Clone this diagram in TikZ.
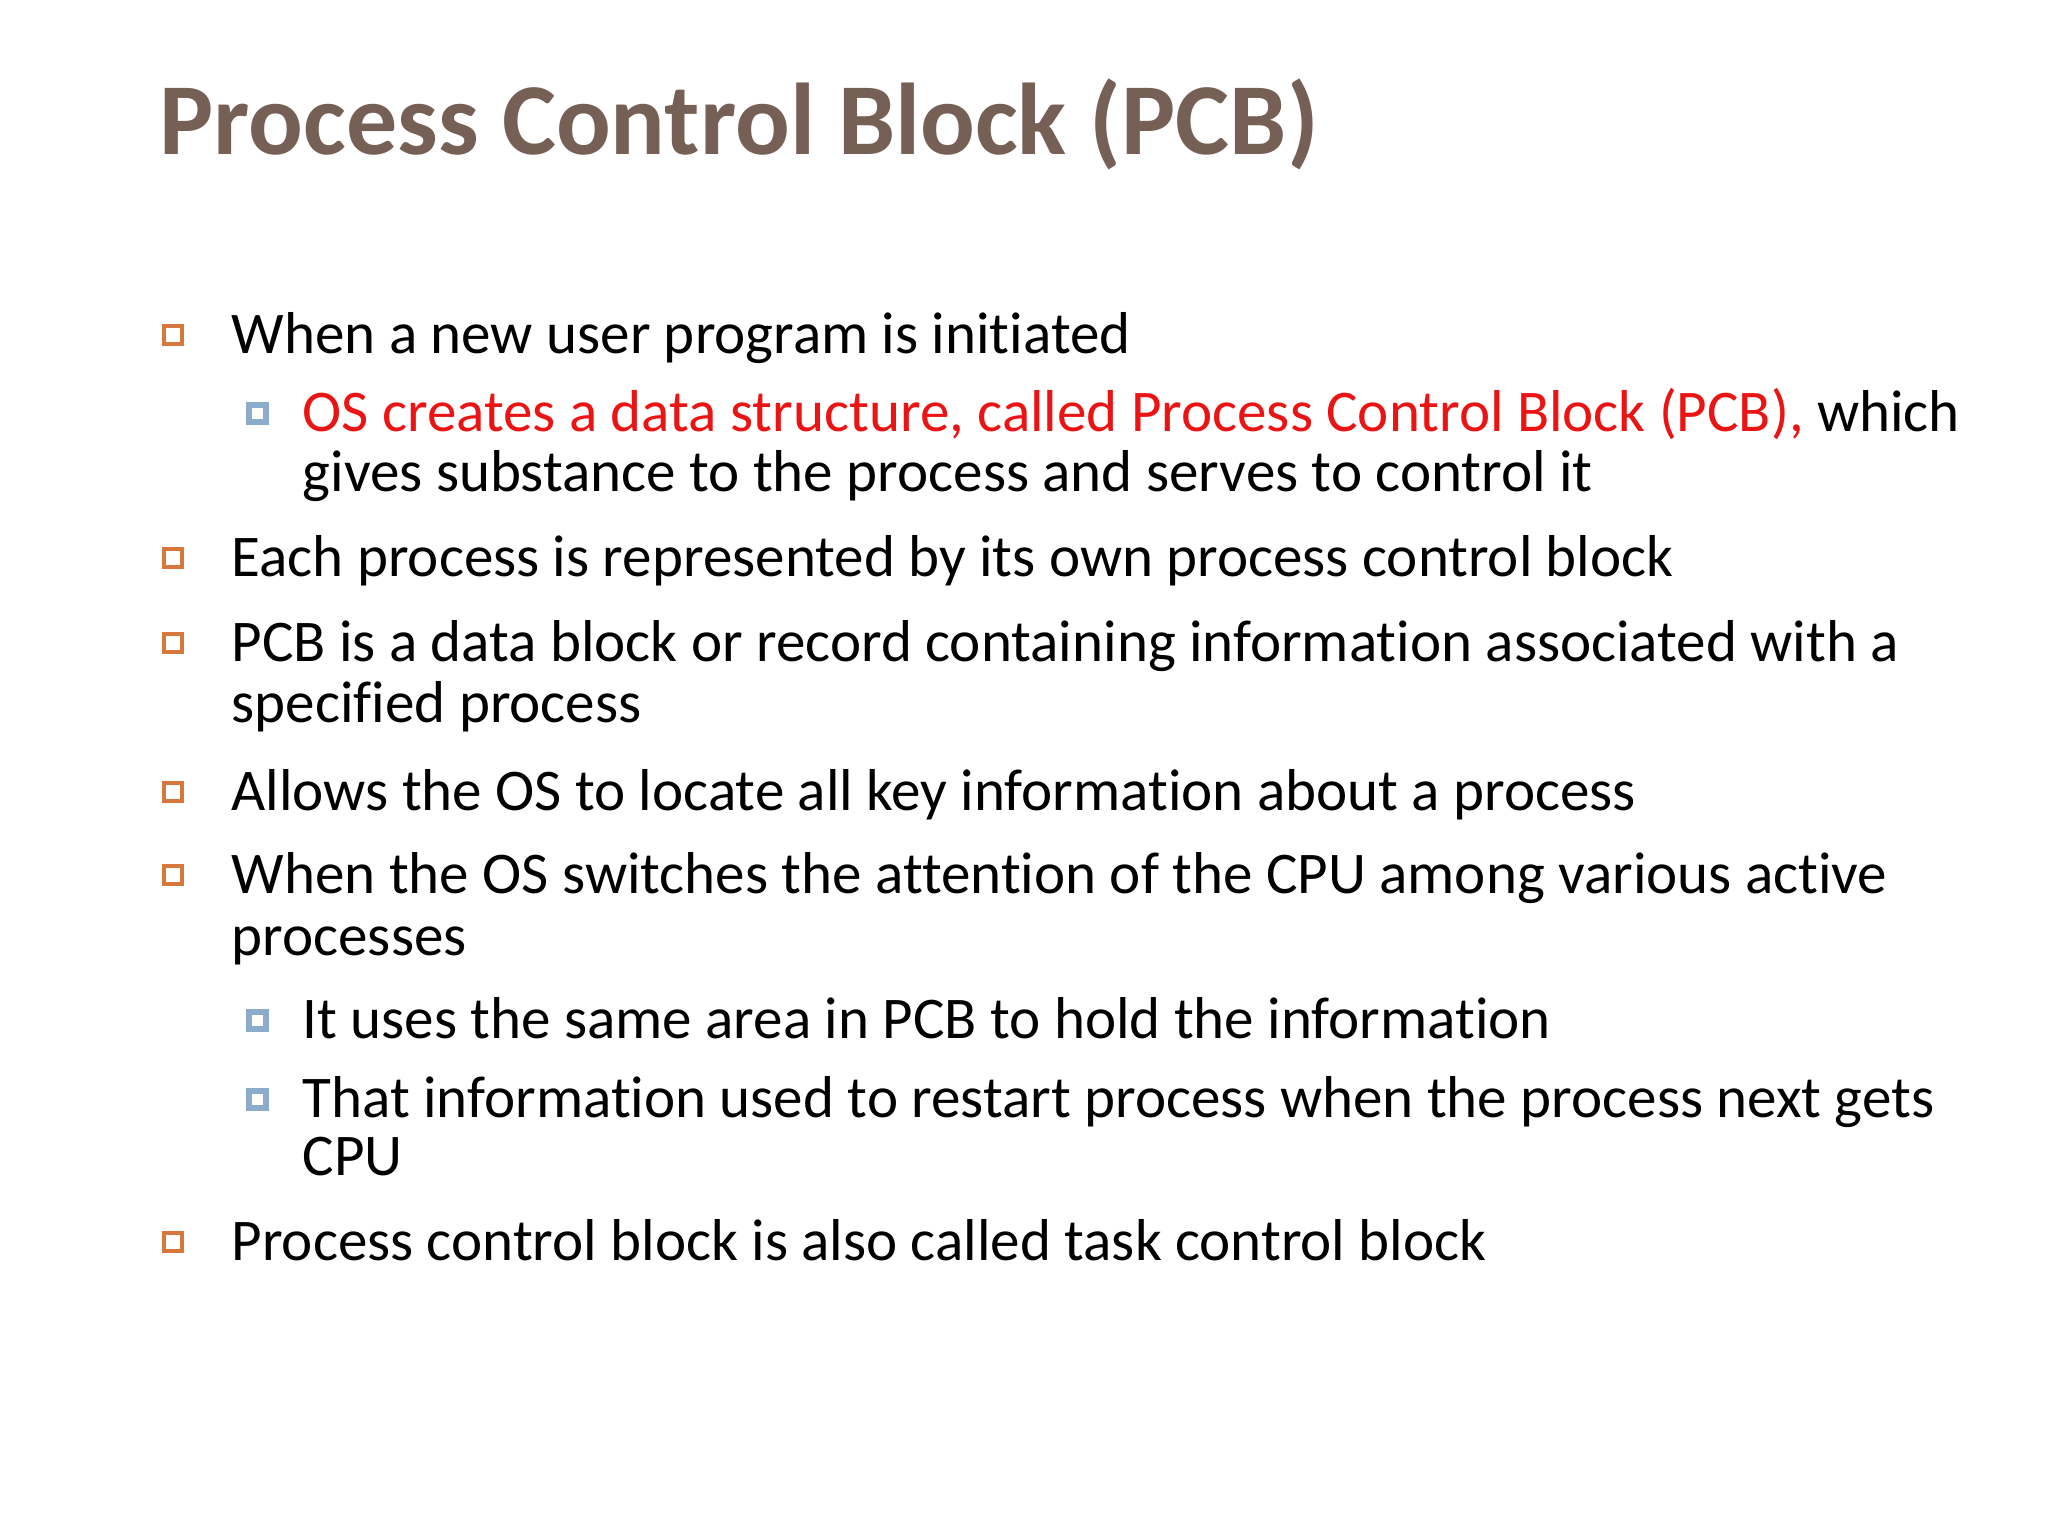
\documentclass[tikz,border=0pt]{standalone}
\usepackage{fontspec}
\setmainfont[Ligatures={NoCommon}]{Carlito}
\definecolor{titlec}{RGB}{118,96,86}
\definecolor{orb}{RGB}{214,120,60}
\definecolor{blb}{RGB}{140,172,204}
\definecolor{redt}{RGB}{235,20,20}
\begin{document}
\begin{tikzpicture}[x=0.01cm,y=-0.01cm,
  txt/.style={anchor=base west,inner sep=0pt,font=\fontsize{16.8pt}{20pt}\selectfont},
  ttl/.style={anchor=base west,inner sep=0pt,font=\fontsize{29pt}{34pt}\selectfont\bfseries,text=titlec}]
\useasboundingbox (0,0) rectangle (2048,1536);
\newcommand{\obul}[1]{\draw[orb,line width=1pt] (164,#1-27) rectangle (182,#1-9);}
\newcommand{\bbul}[1]{\fill[blb] (246,#1-29) rectangle (269,#1-6); \fill[white] (252,#1-23) rectangle (263,#1-12);}
\node[ttl] (title) at (159,154) {Process Control Block (PCB)};
\obul{353}\node[txt] (l1) at (231,353) {When a new user program is initiated};
\bbul{431}\node[txt] (l2) at (302,431) {{\color{redt}OS creates a data structure, called Process Control Block (PCB),}\ which};
\node[txt] (l3) at (302,491) {gives substance to the process and serves to control it};
\obul{576}\node[txt] (l4) at (231,576) {Each process is represented by its own process control block};
\obul{661}\node[txt] (l5) at (231,661) {PCB is a data block or record containing information associated with a};
\node[txt] (l6) at (231,722) {specified process};
\obul{810}\node[txt] (l7) at (231,810) {Allows the OS to locate all key information about a process};
\obul{893}\node[txt] (l8) at (231,893) {When the OS switches the attention of the CPU among various active};
\node[txt] (l9) at (231,955) {processes};
\bbul{1038}\node[txt] (l10) at (302,1038) {It uses the same area in PCB to hold the information};
\bbul{1117}\node[txt] (l11) at (302,1117) {That information used to restart process when the process next gets};
\node[txt] (l12) at (302,1175) {CPU};
\obul{1260}\node[txt] (l13) at (231,1260) {Process control block is also called task control block};
\end{tikzpicture}
\end{document}
